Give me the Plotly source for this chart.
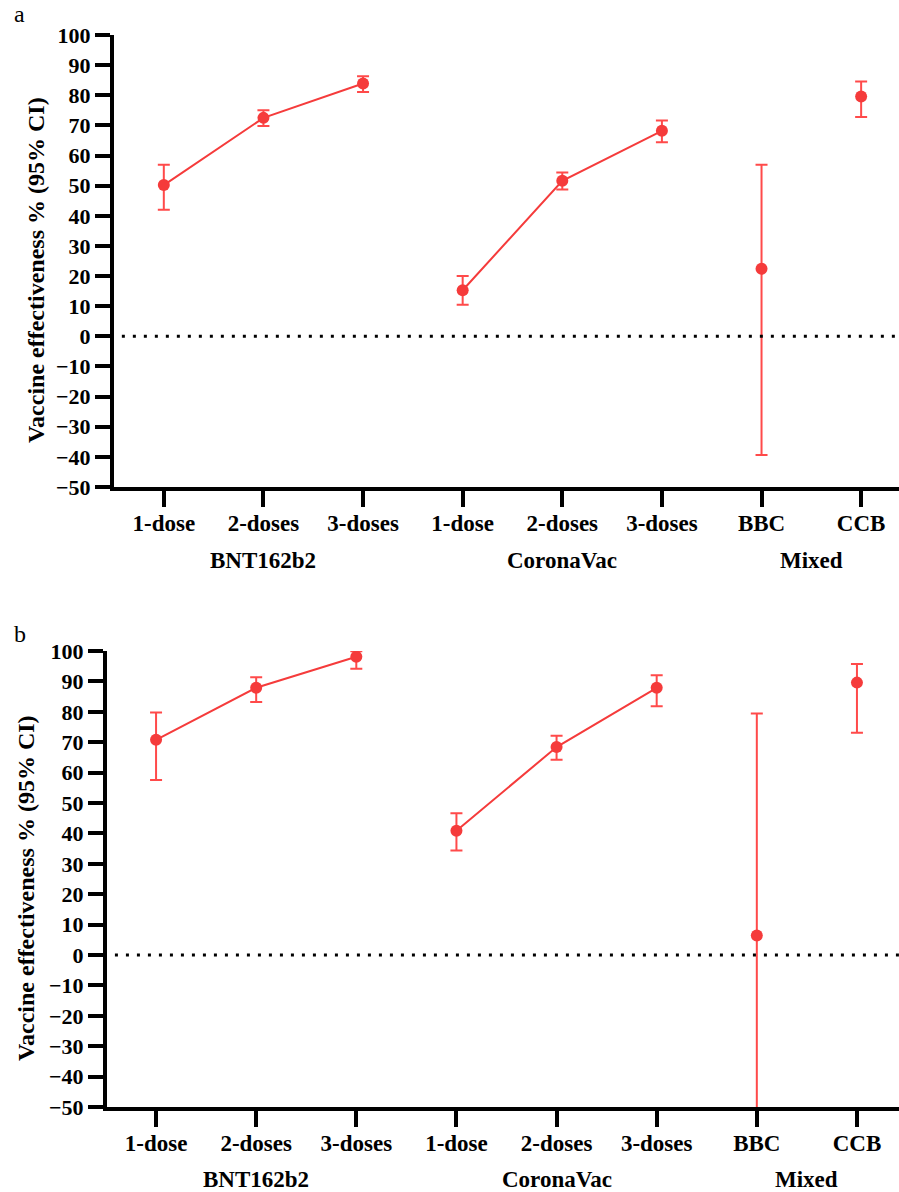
import plotly.graph_objects as go

# ---------------- data ----------------
dose_labels = ["1-dose", "2-doses", "3-doses", "1-dose", "2-doses", "3-doses", "BBC", "CCB"]
groups = ["BNT162b2", "CoronaVac", "Mixed"]
group_idx = [[0, 1, 2], [3, 4, 5], [6, 7]]

# panel a
a_bnt = [50.2, 72.5, 83.9]
a_bnt_lo = [42.0, 69.8, 81.1]
a_bnt_hi = [56.9, 75.0, 86.3]
a_cor = [15.3, 51.6, 68.2]
a_cor_lo = [10.5, 48.7, 64.4]
a_cor_hi = [20.0, 54.4, 71.6]
a_mix = [22.4, 79.6]
a_mix_lo = [-39.4, 72.8]
a_mix_hi = [56.9, 84.6]

# panel b
b_bnt = [70.8, 87.9, 98.1]
b_bnt_lo = [57.6, 83.2, 94.2]
b_bnt_hi = [79.8, 91.4, 99.9]
b_cor = [40.9, 68.4, 87.9]
b_cor_lo = [34.4, 64.2, 81.8]
b_cor_hi = [46.6, 72.1, 92.0]
b_mix = [6.4, 89.6]
b_mix_lo = [-100.0, 73.1]
b_mix_hi = [79.4, 95.7]

y_ticks = list(range(-50, 101, 10))

# ---------------- style ----------------
RED = "#f53b3b"
ERR = "#ff4a4a"
FONT = "Liberation Serif"
W, H = 899, 1192

fig = go.Figure()

panels = [
    ("x", "y", [(a_bnt, a_bnt_lo, a_bnt_hi, True), (a_cor, a_cor_lo, a_cor_hi, True), (a_mix, a_mix_lo, a_mix_hi, False)]),
    ("x2", "y2", [(b_bnt, b_bnt_lo, b_bnt_hi, True), (b_cor, b_cor_lo, b_cor_hi, True), (b_mix, b_mix_lo, b_mix_hi, False)]),
]

for xa, ya, series in panels:
    for (vals, lo, hi, connect), idx in zip(series, group_idx):
        fig.add_trace(go.Scatter(
            x=idx, y=vals, xaxis=xa, yaxis=ya,
            mode="lines+markers" if connect else "markers",
            line=dict(color=RED, width=2),
            marker=dict(color=RED, size=12),
            error_y=dict(type="data", symmetric=False,
                         array=[h - v for h, v in zip(hi, vals)],
                         arrayminus=[v - l for v, l in zip(vals, lo)],
                         color=ERR, thickness=2, width=6),
            showlegend=False, hoverinfo="skip",
        ))

x_font = dict(family=FONT, size=23, color="black", weight="bold")
y_font = dict(family=FONT, size=22, color="black", weight="bold")

common_x = dict(
    tickmode="array", tickvals=list(range(len(dose_labels))), ticktext=dose_labels,
    ticks="outside", ticklen=16, tickwidth=4, tickcolor="black",
    showline=True, linewidth=4, linecolor="black", showgrid=False, zeroline=False,
    tickfont=x_font, fixedrange=True, automargin=False, ticklabelstandoff=-4,
)
common_y = dict(
    range=[-50, 100], tickmode="array", tickvals=y_ticks,
    ticks="outside", ticklen=15, tickwidth=4, tickcolor="black",
    showline=True, linewidth=4, linecolor="black", showgrid=False, zeroline=False,
    tickfont=y_font, fixedrange=True, automargin=False,
)

# pixel geometry -> domains
a_left, a_top, a_bot = 114, 35, 487
b_left, b_top, b_bot = 107, 651, 1107

fig.update_layout(
    width=W, height=H,
    margin=dict(l=0, r=0, t=0, b=0, autoexpand=False),
    paper_bgcolor="white", plot_bgcolor="white",
    xaxis=dict(common_x, domain=[a_left / W, 1], range=[-0.5, 7.38], anchor="y"),
    yaxis=dict(common_y, domain=[1 - a_bot / H, 1 - a_top / H], anchor="x"),
    xaxis2=dict(common_x, domain=[b_left / W, 1], range=[-0.49, 7.42], anchor="y2"),
    yaxis2=dict(common_y, domain=[1 - b_bot / H, 1 - b_top / H], anchor="x2"),
)

# dotted zero lines
for ya, xa in [("y", "x"), ("y2", "x2")]:
    fig.add_shape(type="line", xref=f"{xa} domain", yref=ya, x0=0.01, x1=1, y0=0, y1=0,
                  line=dict(color="black", width=3, dash="3px,8px"))

# group labels
for xa, ya, shift in [("x", "y", -73), ("x2", "y2", -72)]:
    for g, idx in zip(groups, group_idx):
        fig.add_annotation(
            text=g, xref=xa, yref=f"{ya} domain",
            x=sum(idx) / len(idx), y=0, yshift=shift, yanchor="middle",
            showarrow=False, font=x_font,
        )

# y-axis titles
for x_px, ya in [(36, "y"), (26, "y2")]:
    fig.add_annotation(
        text="Vaccine effectiveness % (95% CI)", textangle=-90,
        xref="paper", x=x_px / W, yref=f"{ya} domain", y=0.48,
        xanchor="center", yanchor="middle", showarrow=False,
        font=dict(family=FONT, size=24, color="black", weight="bold"),
    )

# panel letters
for letter, y_px in [("a", 14), ("b", 634)]:
    fig.add_annotation(
        text=letter, xref="paper", yref="paper", x=12 / W, y=1 - y_px / H,
        xanchor="left", yanchor="middle", showarrow=False,
        font=dict(family=FONT, size=24, color="black"),
    )

fig.write_html(
    "out.html",
    config={"displayModeBar": False, "staticPlot": True},
    post_script="document.body.style.margin='0';document.body.style.overflow='hidden';",
)
